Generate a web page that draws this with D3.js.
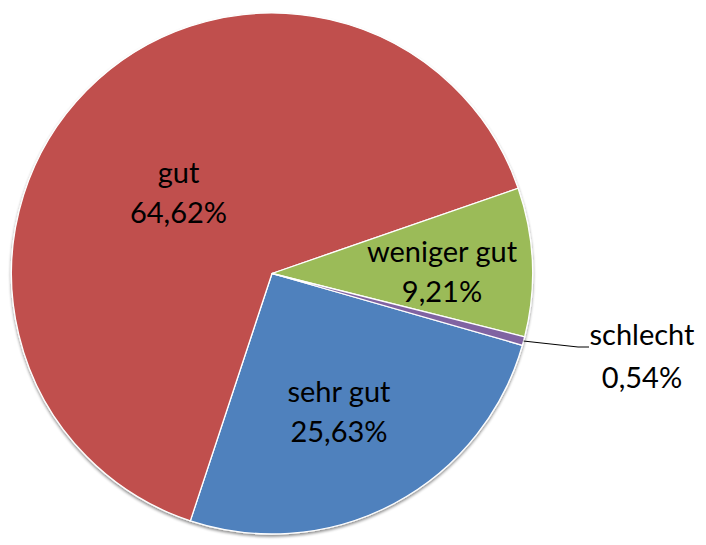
<!DOCTYPE html>
<html>
<head>
<meta charset="utf-8">
<script src="https://cdn.jsdelivr.net/npm/d3@7"></script>
<style>
  html, body { margin: 0; padding: 0; background: #fff; }
  svg { display: block; }
  text { font-family: Lato, "Open Sans", sans-serif; fill: #000; }
</style>
</head>
<body>
<svg id="chart" width="706" height="545"></svg>
<script>
// ---- data ----
const categories = ["sehr gut", "gut", "weniger gut", "schlecht"];
const values = [25.63, 64.62, 9.21, 0.54];
const valueLabels = ["25,63%", "64,62%", "9,21%", "0,54%"];

// ---- styles / layout (not data) ----
const colors = ["#4F81BD", "#C0504D", "#9BBB59", "#8064A2"];
const cx = 272, cy = 273.5, radius = 260.5;
const startDeg = 106;
// label anchor points (centre x, first-line baseline) in chart pixels
const labelPos = [
  [339, 402],
  [178.5, 183],
  [442, 262],
  [642, 345]
];
const lineGap = [40, 40, 40, 43];

const svg = d3.select("#chart");
const defs = svg.append("defs");
const f = defs.append("filter").attr("id", "shadow")
  .attr("x", "-10%").attr("y", "-10%").attr("width", "120%").attr("height", "120%");
f.append("feGaussianBlur").attr("in", "SourceAlpha").attr("stdDeviation", 1.6).attr("result", "b");
f.append("feOffset").attr("in", "b").attr("dx", 0).attr("dy", 1.5).attr("result", "o");
f.append("feComponentTransfer").attr("in", "o").attr("result", "s")
  .append("feFuncA").attr("type", "linear").attr("slope", 0.45);
const m = f.append("feMerge");
m.append("feMergeNode").attr("in", "s");
m.append("feMergeNode").attr("in", "SourceGraphic");

const data = categories.map((c, i) => ({ cat: c, value: values[i], label: valueLabels[i], i }));

const start = startDeg * Math.PI / 180;
const pie = d3.pie().value(d => d.value).sort(null)
  .startAngle(start).endAngle(start + 2 * Math.PI);
const arcs = pie(data);
const arc = d3.arc().innerRadius(0).outerRadius(radius);

const g = svg.append("g").attr("transform", `translate(${cx},${cy})`);
g.append("g").attr("filter", "url(#shadow)")
  .selectAll("path").data(arcs).join("path")
  .attr("d", arc)
  .attr("fill", d => colors[d.data.i])
  .attr("stroke", "#fff")
  .attr("stroke-width", 1.3)
  .attr("stroke-linejoin", "round");

// leader line for the small slice
const small = arcs[3];
const midA = (small.startAngle + small.endAngle) / 2;
const p0 = [cx + Math.sin(midA) * radius, cy - Math.cos(midA) * radius];
const lp = labelPos[3];
const p2 = [lp[0] - 53, lp[1] + 2];
const p1 = [p2[0] - 11, p2[1]];
svg.append("polyline")
  .attr("points", [p0, p1, p2].map(p => p.join(",")).join(" "))
  .attr("fill", "none").attr("stroke", "#000").attr("stroke-width", 1);

// labels
const lab = svg.append("g").selectAll("text").data(arcs).join("text")
  .attr("text-anchor", "middle")
  .attr("font-size", 29);
lab.append("tspan")
  .attr("x", d => labelPos[d.data.i][0])
  .attr("y", d => labelPos[d.data.i][1])
  .text(d => d.data.cat);
lab.append("tspan")
  .attr("x", d => labelPos[d.data.i][0])
  .attr("y", d => labelPos[d.data.i][1] + lineGap[d.data.i])
  .text(d => d.data.label);
</script>
</body>
</html>
